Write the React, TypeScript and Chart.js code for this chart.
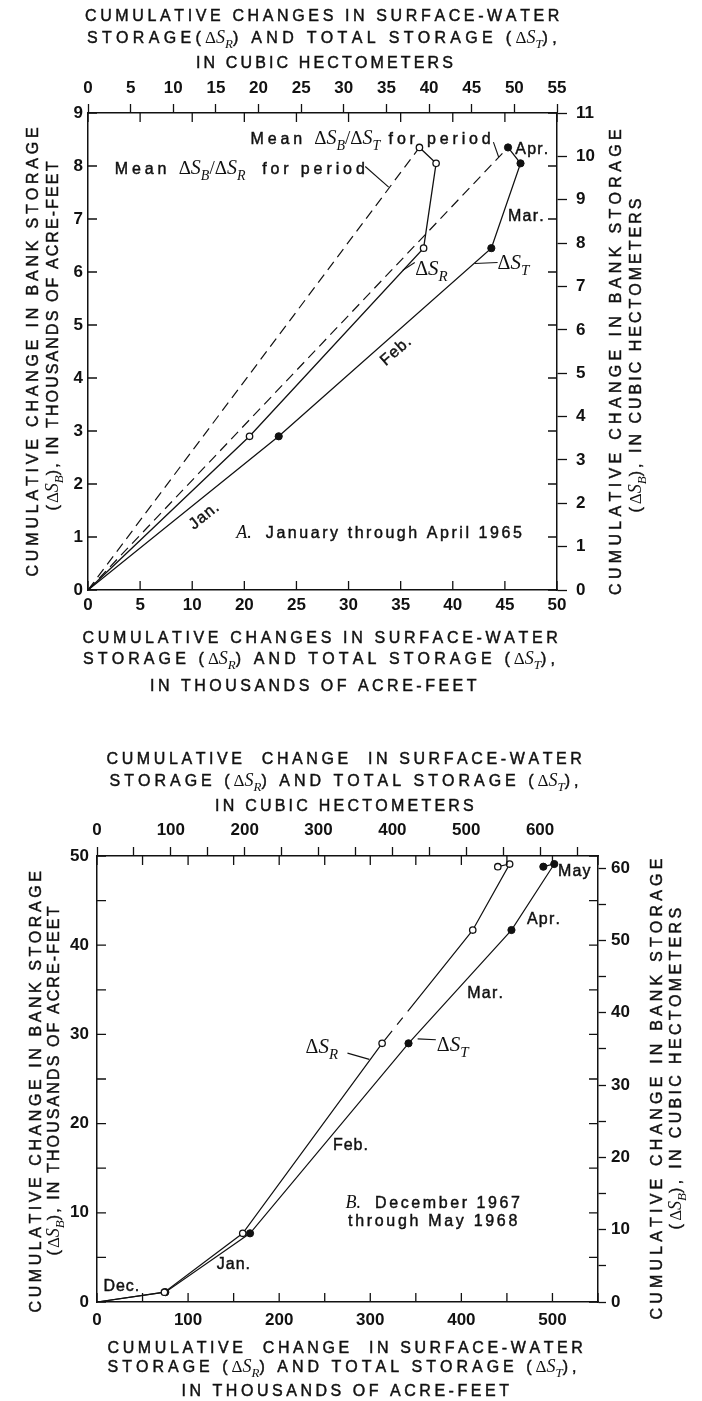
import { useEffect, useRef } from "react";
import { Chart, registerables } from "chart.js";

Chart.register(...registerables);

const INK = "#111";
const SANS = "'Liberation Sans', Arial, Helvetica, sans-serif";
const SERIF = "'Liberation Serif', 'Times New Roman', serif";
const HM3_PER_KAF = 1.2335;

/* Panel A: January through April 1965 (thousands of acre-feet, month ends) */
const monthsA = ["Jan.", "Feb.", "Mar.", "Apr."];
const bankA = [0, 2.9, 6.45, 8.05, 8.35]; // ΔS_B
const surfaceA = [0, 15.5, 32.2, 33.4, 31.8]; // ΔS_R
const totalA = [0, 18.3, 38.7, 41.5, 40.3]; // ΔS_T
const bottomLabelsA = ["0", "5", "10", "20", "25", "30", "35", "40", "45", "50"];
const topLabelsA = ["0", "5", "10", "15", "20", "25", "30", "35", "40", "45", "50", "55"];
const leftLabelsA = ["0", "1", "2", "3", "4", "5", "6", "7", "8", "9"];
const rightLabelsA = ["0", "1", "2", "3", "4", "5", "6", "7", "8", "9", "10", "11"];

/* Panel B: December 1967 through May 1968 */
const monthsB = ["Dec.", "Jan.", "Feb.", "Mar.", "Apr.", "May"];
const bankB = [0, 1.1, 7.7, 29.0, 41.7, 49.1, 48.8];
const surfaceB = [0, 74, 160, 313, 412.5, 453, 440];
const totalB = [0, 75, 168, 342, 455, 502, 490];
const bottomLabelsB = ["0", "100", "200", "300", "400", "500"];
const topLabelsB = ["0", "100", "200", "300", "400", "500", "600"];
const leftLabelsB = ["0", "10", "20", "30", "40", "50"];
const rightLabelsB = ["0", "10", "20", "30", "40", "50", "60"];

type Seg = { t: string; font: string; dy?: number; track?: boolean };
const sans = (t: string, size = 16): Seg => ({ t, font: `${size}px ${SANS}`, track: true });
const ital = (t: string, size = 17): Seg => ({ t, font: `italic ${size}px ${SERIF}` });
const slash = (size = 18): Seg => ({ t: "/", font: `${size}px ${SERIF}` });
const dS = (k: string, size = 18): Seg[] => [
  { t: "Δ", font: `${size - 1}px ${SERIF}` },
  { t: "S", font: `italic ${size}px ${SERIF}` },
  { t: k, font: `italic ${Math.round(size * 0.72)}px ${SERIF}`, dy: Math.round(size * 0.3) },
];

function measureRich(ctx: CanvasRenderingContext2D, segs: Seg[], sp: number) {
  let w = 0;
  for (const s of segs) {
    ctx.font = s.font;
    for (const ch of s.t) w += ctx.measureText(ch).width + (s.track ? sp : 0);
  }
  return w;
}

// Draws mixed sans / serif text with optional tracking, fitted to a width if asked.
function drawRich(
  ctx: CanvasRenderingContext2D,
  segs: Seg[],
  x: number,
  y: number,
  align: "left" | "center" | "right",
  o: { width?: number; sp?: number; angle?: number; size?: number } = {}
) {
  let sp = o.sp ?? 0;
  const tracked = segs.reduce((n, s) => n + (s.track ? [...s.t].length : 0), 0);
  if (o.width && tracked > 1) sp = Math.max(-1, (o.width - measureRich(ctx, segs, 0)) / tracked);
  const w = measureRich(ctx, segs, sp);
  ctx.save();
  ctx.translate(x, y);
  if (o.angle) ctx.rotate(o.angle);
  ctx.fillStyle = INK;
  ctx.strokeStyle = INK;
  ctx.lineWidth = 0.45;
  ctx.textBaseline = "alphabetic";
  ctx.textAlign = "left";
  const base = 0.36 * (o.size ?? 16);
  let cx = align === "left" ? 0 : align === "center" ? -w / 2 : -w;
  for (const s of segs) {
    ctx.font = s.font;
    for (const ch of s.t) {
      ctx.fillText(ch, cx, base + (s.dy ?? 0));
      if (s.track) ctx.strokeText(ch, cx, base + (s.dy ?? 0));
      cx += ctx.measureText(ch).width + (s.track ? sp : 0);
    }
  }
  ctx.restore();
}

function stroke(ctx: CanvasRenderingContext2D, pts: number[], width = 1.1) {
  ctx.save();
  ctx.strokeStyle = INK;
  ctx.lineWidth = width;
  ctx.beginPath();
  ctx.moveTo(pts[0], pts[1]);
  for (let i = 2; i < pts.length; i += 2) ctx.lineTo(pts[i], pts[i + 1]);
  ctx.stroke();
  ctx.restore();
}

type Frame = { l: number; r: number; t: number; b: number };
type AxisSpec = { max: number; step: number; fmt: (v: number) => string; tickLen?: number; pad: number };
const TICK_FONT = { family: SANS, size: 17, weight: "bold" as const };

function buildScales(W: number, H: number, f: Frame, x: AxisSpec, x2: AxisSpec, y: AxisSpec, y2: AxisSpec) {
  const base = (spec: AxisSpec, position: string, outward: boolean, fit: (s: any) => void) => ({
    type: "linear",
    position,
    min: 0,
    max: spec.max,
    afterFit: fit,
    grid: {
      display: true,
      drawOnChartArea: false,
      drawTicks: outward,
      tickLength: spec.tickLen ?? 0,
      tickColor: INK,
      tickWidth: 1.3,
      color: INK,
    },
    border: { display: true, color: INK, width: 1.5 },
    ticks: {
      stepSize: spec.step,
      includeBounds: false,
      autoSkip: false,
      maxRotation: 0,
      minRotation: 0,
      padding: spec.pad,
      color: INK,
      font: TICK_FONT,
      callback: (v: number | string) => spec.fmt(Number(v)),
    },
  });
  return {
    x: base(x, "bottom", false, (s) => { s.height = H - f.b; }),
    x2: base(x2, "top", true, (s) => { s.height = f.t; }),
    y: base(y, "left", false, (s) => { s.width = f.l; }),
    y2: base(y2, "right", true, (s) => { s.width = W - f.r; }),
  };
}

const pts = (xs: number[], ys: number[]) => xs.map((x, i) => ({ x, y: ys[i] }));

const openMarks = {
  pointRadius: (c: any) => (c.dataIndex === 0 ? 0 : 3.2),
  pointBackgroundColor: "#fff",
  pointBorderColor: INK,
  pointBorderWidth: 1.3,
};
const filledMarks = {
  pointRadius: (c: any) => (c.dataIndex === 0 ? 0 : 3.6),
  pointBackgroundColor: INK,
  pointBorderColor: INK,
  pointBorderWidth: 1,
};

type Px = (v: number) => number;

// Inward ticks on all four sides plus the panel's lettering.
function panelPlugin(id: string, draw: (ctx: CanvasRenderingContext2D, px: Px, py: Px) => void) {
  return {
    id,
    afterDraw(chart: any) {
      const { ctx, chartArea: a, scales } = chart;
      const L = 9;
      ctx.save();
      ctx.strokeStyle = INK;
      ctx.lineWidth = 1.3;
      ctx.beginPath();
      for (const t of scales.y.ticks) {
        const p = scales.y.getPixelForValue(t.value);
        ctx.moveTo(a.left, p); ctx.lineTo(a.left + L, p);
        ctx.moveTo(a.right, p); ctx.lineTo(a.right - L, p);
      }
      for (const t of scales.x.ticks) {
        const p = scales.x.getPixelForValue(t.value);
        ctx.moveTo(p, a.bottom); ctx.lineTo(p, a.bottom - L);
        ctx.moveTo(p, a.top); ctx.lineTo(p, a.top + L);
      }
      ctx.stroke();
      ctx.restore();
      const px = (v: number) => scales.x.getPixelForValue(v);
      const py = (v: number) => scales.y.getPixelForValue(v);
      draw(ctx, px, py);
    },
  };
}

const WA = 702, HA = 720;
const frameA: Frame = { l: 88, r: 557, t: 113, b: 590 };
const WB = 702, HB = 681;
const frameB: Frame = { l: 97, r: 598, t: 136, b: 582 };

function drawA(ctx: CanvasRenderingContext2D, px: Px, py: Px) {
  // axis titles
  drawRich(ctx, [sans("CUMULATIVE CHANGES IN SURFACE-WATER")], 324, 15, "center", { width: 478 });
  drawRich(ctx, [sans("STORAGE("), ...dS("R"), sans(") AND TOTAL STORAGE ("), ...dS("T"), sans("),")], 324, 37, "center", { width: 474 });
  drawRich(ctx, [sans("IN CUBIC HECTOMETERS")], 326, 62, "center", { width: 260 });
  drawRich(ctx, [sans("CUMULATIVE CHANGES IN SURFACE-WATER")], 322, 637, "center", { width: 479 });
  drawRich(ctx, [sans("STORAGE ("), ...dS("R"), sans(") AND TOTAL STORAGE ("), ...dS("T"), sans("),")], 321, 658, "center", { width: 476 });
  drawRich(ctx, [sans("IN THOUSANDS OF ACRE-FEET")], 315, 685, "center", { width: 330 });
  const up = -Math.PI / 2;
  drawRich(ctx, [sans("CUMULATIVE CHANGE IN BANK STORAGE")], 32, 350, "center", { width: 453, angle: up });
  drawRich(ctx, [sans("("), ...dS("B"), sans("), IN THOUSANDS OF ACRE-FEET")], 52, 335, "center", { width: 351, angle: up });
  drawRich(ctx, [sans("CUMULATIVE CHANGE IN BANK STORAGE")], 615, 360, "center", { width: 470, angle: up });
  drawRich(ctx, [sans("("), ...dS("B"), sans("), IN CUBIC HECTOMETERS")], 635, 354, "center", { width: 317, angle: up });

  // leaders
  stroke(ctx, [px(38.9), py(8.45), px(39.4), py(8.17)]);
  stroke(ctx, [px(26.6), py(7.99), px(28.85), py(7.6)]);
  stroke(ctx, [px(31.35), py(6.18), px(30.2), py(6.03)]);
  stroke(ctx, [px(39.3), py(6.18), px(37.1), py(6.16)]);

  drawRich(ctx, [sans("Mean ", 16), ...dS("B", 20), slash(19), ...dS("T", 20), sans(" for period", 16)], px(15.6), py(8.53), "left", { width: 244 });
  drawRich(ctx, [sans("Mean ", 16), ...dS("B", 20), slash(19), ...dS("R", 20), sans("  for period", 16)], px(2.56), py(7.96), "left", { width: 254 });
  drawRich(ctx, dS("R", 21), px(31.4), py(6.08), "left", { size: 19 });
  drawRich(ctx, dS("T", 21), px(39.3), py(6.18), "left", { size: 19 });

  // month labels, set along the ΔS_T line
  const ang = (i: number) => Math.atan2(py(bankA[i]) - py(bankA[i - 1]), px(totalA[i]) - px(totalA[i - 1]));
  drawRich(ctx, [sans(monthsA[0], 16)], px(11.1), py(1.42), "center", { sp: 1, angle: ang(1) });
  drawRich(ctx, [sans(monthsA[1], 16)], px(29.5), py(4.53), "center", { sp: 1, angle: ang(2) });
  drawRich(ctx, [sans(monthsA[2], 16)], px(40.3), py(7.07), "left", { sp: 1.2 });
  drawRich(ctx, [sans(monthsA[3], 16)], px(41.0), py(8.34), "left", { sp: 1.2 });

  drawRich(ctx, [ital("A.", 18), sans("  January through April 1965", 16)], px(28.05), py(1.09), "center", { width: 288 });
}

function drawB(ctx: CanvasRenderingContext2D, px: Px, py: Px) {
  drawRich(ctx, [sans("CUMULATIVE  CHANGE  IN SURFACE-WATER")], 346, 38, "center", { width: 479 });
  drawRich(ctx, [sans("STORAGE ("), ...dS("R"), sans(") AND TOTAL STORAGE ("), ...dS("T"), sans("),")], 346, 60, "center", { width: 473 });
  drawRich(ctx, [sans("IN CUBIC HECTOMETERS")], 346, 85, "center", { width: 262 });
  drawRich(ctx, [sans("CUMULATIVE  CHANGE  IN SURFACE-WATER")], 347, 627, "center", { width: 479 });
  drawRich(ctx, [sans("STORAGE ("), ...dS("R"), sans(") AND TOTAL STORAGE ("), ...dS("T"), sans("),")], 344, 646, "center", { width: 473 });
  drawRich(ctx, [sans("IN THOUSANDS OF ACRE-FEET")], 347, 670, "center", { width: 331 });
  const up = -Math.PI / 2;
  drawRich(ctx, [sans("CUMULATIVE CHANGE IN BANK STORAGE")], 35, 370, "center", { width: 445, angle: up });
  drawRich(ctx, [sans("("), ...dS("B"), sans("), IN THOUSANDS OF ACRE-FEET")], 53, 360, "center", { width: 351, angle: up });
  drawRich(ctx, [sans("CUMULATIVE CHANGE IN BANK STORAGE")], 656, 367, "center", { width: 465, angle: up });
  drawRich(ctx, [sans("("), ...dS("B"), sans("), IN CUBIC HECTOMETERS")], 675, 347, "center", { width: 325, angle: up });

  stroke(ctx, [px(275), py(27.9), px(299), py(27.2)]);
  stroke(ctx, [px(352), py(29.5), px(372), py(29.4)]);
  drawRich(ctx, dS("R", 21), px(229), py(28.7), "left", { size: 19 });
  drawRich(ctx, dS("T", 21), px(373), py(28.9), "left", { size: 19 });

  drawRich(ctx, [sans(monthsB[0], 16)], px(7), py(1.9), "left", { sp: 1 });
  drawRich(ctx, [sans(monthsB[1], 16)], px(131.5), py(4.3), "left", { sp: 1 });
  drawRich(ctx, [sans(monthsB[2], 16)], px(259), py(17.66), "left", { sp: 1 });
  drawRich(ctx, [sans(monthsB[3], 16)], px(406.5), py(34.7), "left", { sp: 1.2 });
  drawRich(ctx, [sans(monthsB[4], 16)], px(472), py(43.0), "left", { sp: 1.2 });
  drawRich(ctx, [sans(monthsB[5], 16)], px(506), py(48.4), "left", { sp: 1.2 });

  drawRich(ctx, [ital("B.", 18), sans("  December 1967", 16)], px(370), py(11.2), "center", { width: 177 });
  drawRich(ctx, [sans("through May 1968", 16)], px(370), py(9.18), "center", { width: 172 });
}

function configA(): any {
  const last = surfaceA.length - 1;
  return {
    type: "scatter",
    data: {
      datasets: [
        { label: "ΔS_R", data: pts(surfaceA, bankA), showLine: true, borderColor: INK, borderWidth: 1.3, ...openMarks },
        { label: "ΔS_T", data: pts(totalA, bankA), showLine: true, borderColor: INK, borderWidth: 1.3, ...filledMarks },
        { label: "Mean ΔS_B/ΔS_R", data: [{ x: 0, y: 0 }, { x: surfaceA[last], y: bankA[last] }], showLine: true, borderColor: INK, borderWidth: 1.2, borderDash: [10, 6], pointRadius: 0 },
        { label: "Mean ΔS_B/ΔS_T", data: [{ x: 0, y: 0 }, { x: totalA[last], y: bankA[last] }], showLine: true, borderColor: INK, borderWidth: 1.2, borderDash: [10, 6], pointRadius: 0 },
      ],
    },
    options: {
      responsive: false,
      animation: false,
      events: [],
      layout: { padding: 0 },
      plugins: { legend: { display: false }, tooltip: { enabled: false } },
      scales: buildScales(
        WA, HA, frameA,
        { max: 45, step: 5, fmt: (v) => bottomLabelsA[Math.round(v / 5)] ?? "", pad: 5 },
        { max: 55, step: 5, fmt: (v) => topLabelsA[Math.round(v / 5)] ?? "", tickLen: 9, pad: 5 },
        { max: 9, step: 1, fmt: (v) => leftLabelsA[Math.round(v)] ?? "", pad: 5 },
        { max: 11, step: 1, fmt: (v) => rightLabelsA[Math.round(v)] ?? "", tickLen: 10, pad: 9 }
      ),
    },
    plugins: [panelPlugin("panelA", drawA)],
  };
}

function configB(): any {
  const every = (labels: string[], unit: number) => (v: number) =>
    Math.abs(v % unit) < 1e-6 ? labels[Math.round(v / unit)] ?? "" : "";
  return {
    type: "scatter",
    data: {
      datasets: [
        {
          label: "ΔS_R", data: pts(surfaceB, bankB), showLine: true, borderColor: INK, borderWidth: 1.2, ...openMarks,
          segment: { borderDash: (c: any) => (c.p0DataIndex === 3 ? [16, 8, 9, 8, 1000, 0] : undefined) },
        },
        { label: "ΔS_T", data: pts(totalB, bankB), showLine: true, borderColor: INK, borderWidth: 1.2, ...filledMarks },
      ],
    },
    options: {
      responsive: false,
      animation: false,
      events: [],
      layout: { padding: 0 },
      plugins: { legend: { display: false }, tooltip: { enabled: false } },
      scales: buildScales(
        WB, HB, frameB,
        { max: 550, step: 50, fmt: every(bottomLabelsB, 100), pad: 8 },
        { max: 550 * HM3_PER_KAF, step: 50, fmt: every(topLabelsB, 100), tickLen: 9, pad: 6 },
        { max: 50, step: 5, fmt: every(leftLabelsB, 10), pad: 8 },
        { max: 50 * HM3_PER_KAF, step: 5, fmt: every(rightLabelsB, 10), tickLen: 8, pad: 5 }
      ),
    },
    plugins: [panelPlugin("panelB", drawB)],
  };
}

export default function App() {
  const refA = useRef<HTMLCanvasElement>(null);
  const refB = useRef<HTMLCanvasElement>(null);
  useEffect(() => {
    const a = new Chart(refA.current as HTMLCanvasElement, configA());
    const b = new Chart(refB.current as HTMLCanvasElement, configB());
    return () => {
      a.destroy();
      b.destroy();
    };
  }, []);
  return (
    <div style={{ position: "absolute", left: 0, top: 0, width: 702, height: 1401, background: "#fff" }}>
      <canvas ref={refA} width={WA} height={HA} style={{ position: "absolute", left: 0, top: 0, width: WA, height: HA }} />
      <canvas ref={refB} width={WB} height={HB} style={{ position: "absolute", left: 0, top: HA, width: WB, height: HB }} />
    </div>
  );
}
